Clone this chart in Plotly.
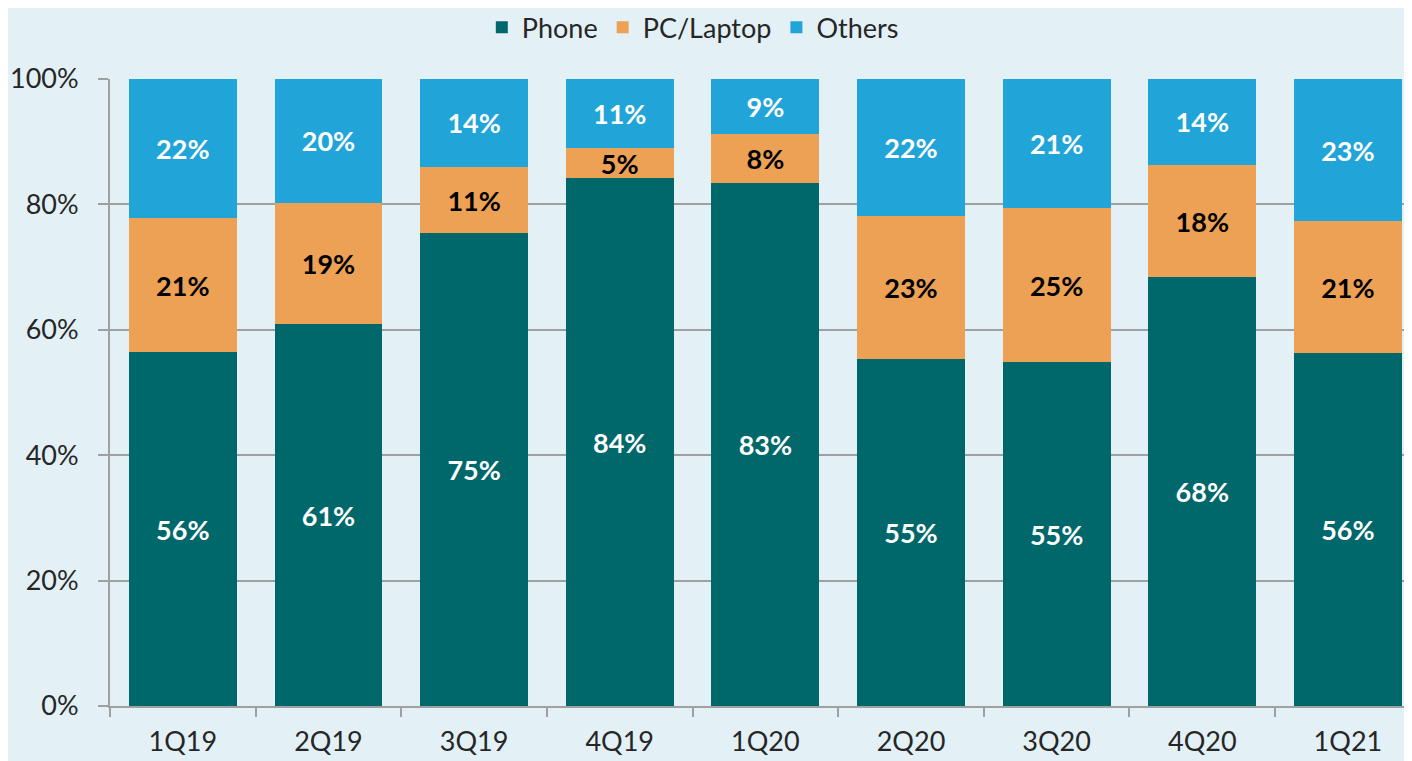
import plotly.graph_objects as go

quarters = ["1Q19", "2Q19", "3Q19", "4Q19", "1Q20", "2Q20", "3Q20", "4Q20", "1Q21"]
phone = [56.4, 60.9, 75.4, 84.2, 83.4, 55.4, 54.8, 68.4, 56.3]
pc_laptop = [21.4, 19.4, 10.6, 4.8, 7.9, 22.7, 24.6, 17.9, 21.0]
others = [22.2, 19.7, 14.0, 11.0, 8.7, 21.9, 20.6, 13.7, 22.7]
y_ticks = [0, 20, 40, 60, 80, 100]
y_tick_labels = ["0%", "20%", "40%", "60%", "80%", "100%"]

FONT = "Lato"
series = [
    ("Phone", phone, "#00676A", "white"),
    ("PC/Laptop", pc_laptop, "#EDA155", "black"),
    ("Others", others, "#21A5D8", "white"),
]

fig = go.Figure()
for name, vals, color, tcolor in series:
    fig.add_trace(go.Bar(
        x=quarters, y=vals, name=name,
        marker=dict(color=color, line=dict(width=0)),
        width=0.74,
        texttemplate="<b>%{y:.0f}%</b>",
        textposition="inside", insidetextanchor="middle",
        textangle=0,
        textfont=dict(family=FONT, size=27, color=tcolor),
        constraintext="none",
    ))

fig.update_layout(
    barmode="stack",
    width=1412, height=761,
    paper_bgcolor="#E3F1F7", plot_bgcolor="#E3F1F7",
    margin=dict(l=102, r=8, t=71, b=63, autoexpand=False),
    font=dict(family=FONT, color="#262626"),
    showlegend=True,
    legend=dict(orientation="h", x=0.485, xanchor="center", xref="container",
                y=1.082, yanchor="middle", yref="paper",
                font=dict(family=FONT, size=27, color="#262626"),
                itemwidth=30, traceorder="normal", bgcolor="rgba(0,0,0,0)"),
)

fig.update_xaxes(
    range=[-0.5, 8.44],
    showline=True, linecolor="#A0A0A0", linewidth=2,
    ticks="outside", tickson="boundaries", ticklen=9, tickcolor="#A0A0A0", tickwidth=2,
    tickfont=dict(family=FONT, size=27, color="#262626"),
    ticklabelstandoff=11,
    showgrid=False, zeroline=False,
)
fig.update_yaxes(
    range=[0, 100],
    tickvals=y_ticks, ticktext=y_tick_labels,
    showline=True, linecolor="#A0A0A0", linewidth=2,
    ticks="outside", ticklen=10, tickcolor="#A0A0A0", tickwidth=2,
    tickfont=dict(family=FONT, size=27, color="#262626"),
    ticklabelstandoff=14,
    showgrid=True, gridcolor="#A0A0A0", gridwidth=2,
    zeroline=False,
)

fig.write_html("out.html")
